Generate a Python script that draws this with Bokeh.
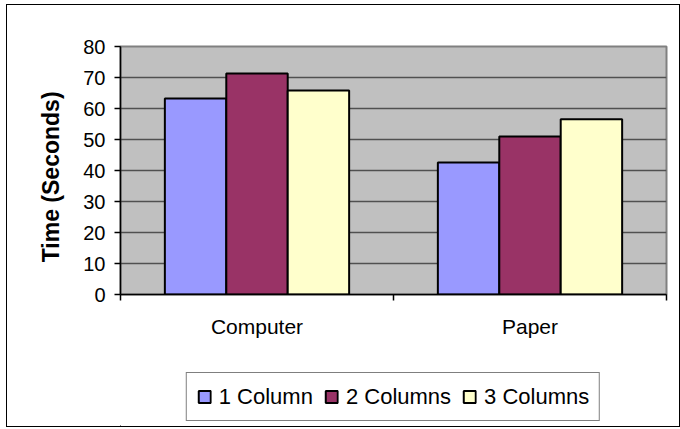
from bokeh.plotting import figure
from bokeh.layouts import column
from bokeh.models import (FactorRange, Range1d, LinearAxis, CategoricalAxis, FixedTicker,
                          ColumnDataSource, Legend, LegendItem)
from bokeh.transform import dodge
from bokeh.embed import file_html
from bokeh.resources import INLINE

categories = ["Computer", "Paper"]
series = ["1 Column", "2 Columns", "3 Columns"]
one_col = [63.2, 42.6]
two_col = [71.3, 51.0]
three_col = [65.8, 56.5]
colors = ["#9999FF", "#993366", "#FFFFCC"]
y_ticks = [0, 10, 20, 30, 40, 50, 60, 70, 80]

FONT = "Liberation Sans"

src = ColumnDataSource(dict(cat=categories, s1=one_col, s2=two_col, s3=three_col))

p = figure(width=672, height=340, x_range=FactorRange(*categories, range_padding=0),
           y_range=Range1d(0, 80), output_backend="svg", toolbar_location=None,
           x_axis_location=None, min_border_left=113, min_border_top=41,
           min_border_right=13, min_border_bottom=51)

p.background_fill_color = "#C0C0C0"
p.border_fill_color = "white"
p.outline_line_color = "#808080"
p.outline_line_width = 2

# boundary ticks between categories (synthetic coordinates 0, 1, 2)
tick_axis = LinearAxis(ticker=FixedTicker(ticks=[0, 1, 2]),
                       major_label_overrides={0: "", 1: "", 2: ""},
                       major_label_text_font_size="1px", major_label_standoff=0,
                       major_tick_out=6, major_tick_in=0, minor_tick_line_color=None,
                       axis_line_color="black", axis_line_width=1.5,
                       major_tick_line_color="black", major_tick_line_width=1.5)
p.add_layout(tick_axis, "below")
cat_axis = CategoricalAxis(axis_line_color=None, major_tick_line_color=None,
                           major_label_standoff=8, major_label_text_font=FONT,
                           major_label_text_font_size="21px", major_label_text_color="black")
p.add_layout(cat_axis, "below")

yax = p.yaxis[0]
yax.ticker = FixedTicker(ticks=y_ticks)
yax.major_tick_out = 6
yax.major_tick_in = 0
yax.minor_tick_line_color = None
yax.axis_line_color = "black"
yax.axis_line_width = 1.5
yax.major_tick_line_color = "black"
yax.major_tick_line_width = 1.5
yax.major_label_text_font = FONT
yax.major_label_text_font_size = "20px"
yax.major_label_text_color = "black"
yax.major_label_standoff = 9
yax.axis_label = "Time (Seconds)\u00a0\u00a0"
yax.axis_label_text_font = FONT
yax.axis_label_text_font_style = "bold"
yax.axis_label_text_font_size = "23px"
yax.axis_label_text_color = "black"
yax.axis_label_standoff = 16

p.xgrid.grid_line_color = None
p.ygrid.grid_line_color = "#505050"
p.ygrid.grid_line_width = 1.5

w = 0.225
p.vbar(x=dodge("cat", -w, range=p.x_range), top="s1", width=w, source=src,
       fill_color=colors[0], line_color="black", line_width=2)
p.vbar(x=dodge("cat", 0, range=p.x_range), top="s2", width=w, source=src,
       fill_color=colors[1], line_color="black", line_width=2)
p.vbar(x=dodge("cat", w, range=p.x_range), top="s3", width=w, source=src,
       fill_color=colors[2], line_color="black", line_width=2)

# legend strip below the chart (swatch renderers sit outside the visible range)
pl = figure(width=672, height=81, x_range=Range1d(0, 1), y_range=Range1d(0, 1),
            output_backend="svg", toolbar_location=None,
            x_axis_location=None, y_axis_location=None,
            min_border_left=98, min_border_right=0, min_border_top=0, min_border_bottom=0)
pl.xgrid.grid_line_color = None
pl.ygrid.grid_line_color = None
pl.outline_line_color = None
pl.background_fill_color = "white"
pl.border_fill_color = "white"
swatches = [pl.vbar(x=[-10], top=[-5], bottom=[-6], width=0.1, fill_color=c,
                    line_color="black", line_width=2)
            for c in colors]

legend = Legend(items=[LegendItem(label=s, renderers=[r]) for s, r in zip(series, swatches)],
                orientation="horizontal", location="bottom_center",
                label_text_font=FONT, label_text_font_size="22px", label_text_color="black",
                glyph_width=15, glyph_height=15, label_standoff=7, spacing=11,
                padding=10, margin=5, label_height=27,
                border_line_color="black", border_line_width=1.5,
                background_fill_color="white", background_fill_alpha=1)
pl.add_layout(legend, "center")

layout = column(p, pl, spacing=0)
layout.styles = {"margin-left": "6px", "margin-top": "4px", "border": "1px solid black"}

open("out.html", "w").write(file_html(layout, INLINE))
